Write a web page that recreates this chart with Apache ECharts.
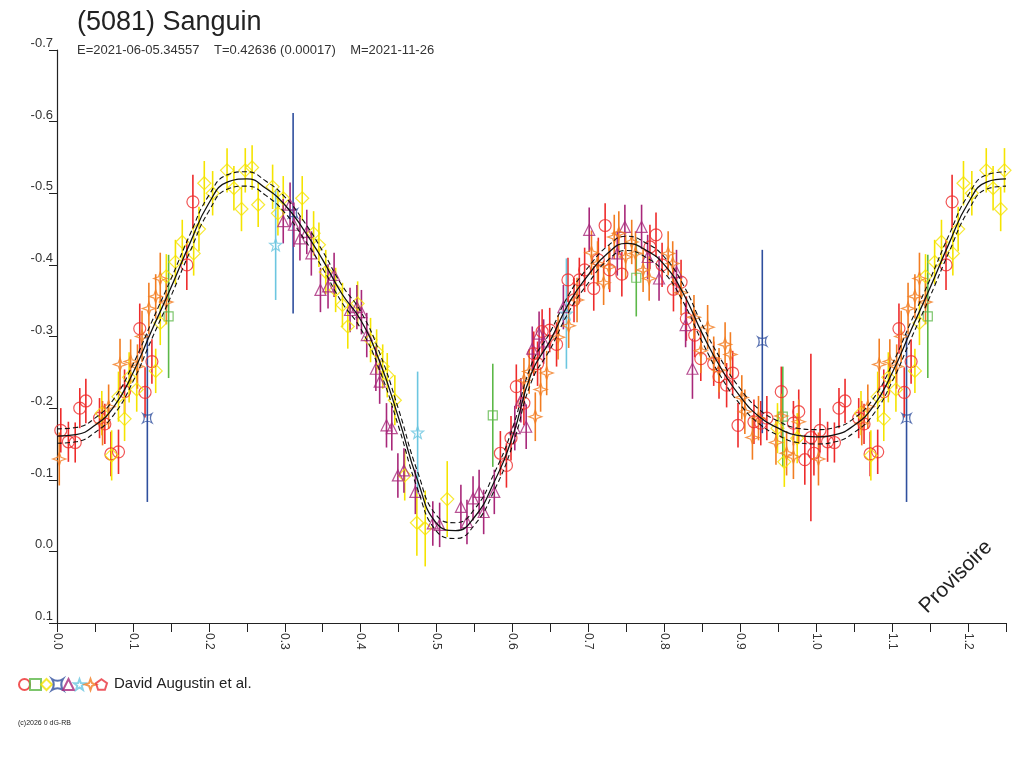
<!DOCTYPE html>
<html>
<head>
<meta charset="utf-8">
<title>(5081) Sanguin</title>
<script src="https://cdn.jsdelivr.net/npm/echarts@6/dist/echarts.min.js"></script>
<style>
  html, body { margin: 0; padding: 0; background: #fff; }
  #chart { width: 1024px; height: 768px; }
</style>
</head>
<body>
<div id="chart"></div>
<script>
// Lightcurve data: [phase, magnitude, error]
var circlePts = [
    [0.005,-0.169,0.031],[0.015,-0.153,0.028],[0.024,-0.152,0.028],[0.030,-0.200,0.028],
    [0.038,-0.210,0.031],[0.056,-0.186,0.028],[0.063,-0.178,0.028],[0.071,-0.136,0.031],
    [0.081,-0.139,0.031],[0.089,-0.223,0.031],[0.109,-0.311,0.035],[0.116,-0.222,0.035],
    [0.125,-0.265,0.031],[0.171,-0.400,0.035],[0.179,-0.488,0.038],
    [0.584,-0.137,0.031],[0.592,-0.120,0.031],[0.598,-0.158,0.031],[0.605,-0.230,0.031],
    [0.615,-0.207,0.031],[0.628,-0.276,0.031],[0.633,-0.262,0.031],[0.639,-0.307,0.031],
    [0.649,-0.309,0.031],[0.658,-0.289,0.031],[0.673,-0.379,0.031],[0.681,-0.351,0.031],
    [0.688,-0.379,0.031],[0.695,-0.393,0.031],[0.707,-0.367,0.031],[0.713,-0.407,0.031],
    [0.722,-0.455,0.031],[0.728,-0.393,0.031],[0.744,-0.387,0.031],[0.781,-0.425,0.031],
    [0.789,-0.442,0.031],[0.797,-0.400,0.031],[0.812,-0.366,0.031],[0.822,-0.376,0.031],
    [0.829,-0.325,0.031],[0.840,-0.302,0.031],[0.848,-0.269,0.031],[0.865,-0.262,0.031],
    [0.872,-0.244,0.031],[0.882,-0.232,0.031],[0.890,-0.249,0.031],[0.897,-0.176,0.031],
    [0.918,-0.181,0.031],[0.927,-0.179,0.031],[0.935,-0.186,0.031],[0.954,-0.223,0.035],
    [0.970,-0.179,0.031],[0.977,-0.195,0.031],[0.985,-0.128,0.035],[0.993,-0.159,0.117],
    [0.997,-0.137,0.031]
];
var squarePts = [
    [0.147,-0.328,0.086],[0.574,-0.190,0.072],[0.763,-0.382,0.054],[0.956,-0.188,0.070]
];
var diamondPts = [
    [0.059,-0.193,0.031],[0.072,-0.134,0.035],[0.081,-0.216,0.035],[0.089,-0.185,0.031],
    [0.095,-0.243,0.035],[0.105,-0.226,0.031],[0.130,-0.252,0.031],[0.136,-0.319,0.031],
    [0.144,-0.384,0.031],[0.156,-0.404,0.031],[0.165,-0.432,0.031],[0.180,-0.416,0.031],
    [0.187,-0.450,0.031],[0.194,-0.514,0.031],[0.205,-0.500,0.031],[0.224,-0.532,0.031],
    [0.233,-0.507,0.031],[0.243,-0.478,0.031],[0.248,-0.532,0.031],[0.257,-0.536,0.031],
    [0.265,-0.484,0.031],[0.284,-0.509,0.031],[0.291,-0.472,0.031],[0.298,-0.493,0.031],
    [0.323,-0.493,0.031],[0.338,-0.444,0.031],[0.345,-0.428,0.031],[0.354,-0.390,0.031],
    [0.367,-0.365,0.031],[0.376,-0.344,0.031],[0.383,-0.314,0.031],[0.396,-0.346,0.031],
    [0.413,-0.295,0.031],[0.421,-0.279,0.031],[0.429,-0.258,0.031],[0.435,-0.246,0.031],
    [0.445,-0.211,0.035],[0.458,-0.106,0.035],[0.474,-0.040,0.046],[0.485,-0.032,0.053],
    [0.514,-0.073,0.053],[0.949,-0.172,0.035],[0.958,-0.125,0.035],[0.975,-0.158,0.035]
];
var bowtiePts = [
    [0.119,-0.186,0.117],[0.311,-0.472,0.140],[0.929,-0.293,0.128]
];
var trianglePts = [
    [0.298,-0.461,0.031],[0.307,-0.484,0.031],[0.312,-0.456,0.031],[0.320,-0.437,0.031],
    [0.329,-0.446,0.031],[0.335,-0.416,0.031],[0.347,-0.365,0.031],[0.357,-0.370,0.031],
    [0.365,-0.386,0.031],[0.386,-0.337,0.031],[0.395,-0.341,0.031],[0.401,-0.334,0.031],
    [0.408,-0.302,0.031],[0.420,-0.255,0.031],[0.425,-0.237,0.031],[0.434,-0.176,0.031],
    [0.441,-0.172,0.031],[0.449,-0.106,0.031],[0.457,-0.113,0.031],[0.472,-0.083,0.031],
    [0.495,-0.039,0.031],[0.504,-0.037,0.031],[0.532,-0.062,0.031],[0.540,-0.041,0.031],
    [0.548,-0.074,0.031],[0.556,-0.083,0.031],[0.562,-0.055,0.031],[0.576,-0.083,0.031],
    [0.603,-0.172,0.031],[0.611,-0.211,0.031],[0.618,-0.174,0.031],[0.626,-0.283,0.031],
    [0.635,-0.304,0.031],[0.641,-0.293,0.031],[0.667,-0.341,0.031],[0.701,-0.449,0.031],
    [0.738,-0.416,0.031],[0.748,-0.453,0.031],[0.770,-0.453,0.031],[0.778,-0.411,0.031],
    [0.793,-0.381,0.031],[0.816,-0.390,0.031],[0.828,-0.316,0.031],[0.837,-0.255,0.042]
];
var star5Pts = [
    [0.288,-0.428,0.077],[0.475,-0.166,0.085],[0.671,-0.332,0.077]
];
var star4Pts = [
    [0.003,-0.129,0.037],[0.060,-0.179,0.031],[0.068,-0.202,0.031],[0.083,-0.261,0.036],
    [0.097,-0.265,0.031],[0.106,-0.258,0.031],[0.112,-0.300,0.036],[0.121,-0.339,0.036],
    [0.130,-0.356,0.031],[0.136,-0.381,0.036],[0.144,-0.348,0.031],
    [0.615,-0.239,0.031],[0.622,-0.251,0.031],[0.630,-0.188,0.034],[0.637,-0.226,0.031],
    [0.645,-0.249,0.031],[0.660,-0.299,0.031],[0.674,-0.315,0.031],[0.685,-0.351,0.031],
    [0.704,-0.417,0.031],[0.712,-0.402,0.031],[0.720,-0.375,0.031],[0.727,-0.397,0.031],
    [0.734,-0.439,0.031],[0.740,-0.444,0.031],[0.749,-0.411,0.031],[0.757,-0.432,0.031],
    [0.762,-0.416,0.031],[0.772,-0.393,0.031],[0.780,-0.381,0.031],[0.805,-0.416,0.031],
    [0.811,-0.402,0.031],[0.822,-0.361,0.031],[0.839,-0.327,0.031],[0.848,-0.280,0.031],
    [0.857,-0.313,0.031],[0.865,-0.269,0.031],[0.872,-0.253,0.031],[0.880,-0.289,0.031],
    [0.887,-0.275,0.031],[0.902,-0.215,0.031],[0.906,-0.195,0.031],[0.916,-0.159,0.031],
    [0.924,-0.186,0.031],[0.947,-0.152,0.031],[0.954,-0.189,0.031],[0.961,-0.137,0.031],
    [0.970,-0.132,0.031],[0.977,-0.181,0.031]
];
var pentagonPts = [];

// Fourier fit, with its dashed envelope
var fitPhase = [0.000,0.025,0.050,0.075,0.100,0.125,0.150,0.175,0.200,0.225,0.250,
    0.275,0.300,0.325,0.350,0.375,0.400,0.425,0.450,0.475,0.500,0.525,0.550,0.575,
    0.600,0.625,0.650,0.675,0.700,0.725,0.750,0.775,0.800,0.825,0.850,0.875,0.900,
    0.925,0.950,0.975,1.000];
var fitMag = [-0.161,-0.163,-0.176,-0.202,-0.249,-0.309,-0.368,-0.430,-0.486,-0.516,-0.520,
    -0.507,-0.484,-0.449,-0.407,-0.360,-0.323,-0.265,-0.186,-0.099,-0.039,-0.029,-0.048,-0.095,
    -0.160,-0.249,-0.295,-0.348,-0.386,-0.416,-0.430,-0.421,-0.400,-0.360,-0.304,-0.255,-0.216,
    -0.188,-0.172,-0.162,-0.160];
var fitUpper = [-0.171,-0.173,-0.186,-0.213,-0.261,-0.321,-0.380,-0.442,-0.497,-0.526,-0.530,
    -0.517,-0.495,-0.461,-0.419,-0.372,-0.335,-0.277,-0.198,-0.111,-0.050,-0.040,-0.059,-0.107,
    -0.172,-0.261,-0.307,-0.360,-0.397,-0.426,-0.440,-0.431,-0.411,-0.372,-0.316,-0.267,-0.227,
    -0.198,-0.182,-0.172,-0.170];
var fitLower = [-0.151,-0.153,-0.166,-0.191,-0.237,-0.297,-0.356,-0.418,-0.475,-0.506,-0.510,
    -0.497,-0.473,-0.437,-0.395,-0.348,-0.311,-0.253,-0.174,-0.087,-0.028,-0.018,-0.037,-0.083,
    -0.148,-0.237,-0.283,-0.336,-0.375,-0.406,-0.420,-0.411,-0.389,-0.348,-0.292,-0.243,-0.205,
    -0.178,-0.162,-0.152,-0.150];

var xTicks = ['0.0','0.1','0.2','0.3','0.4','0.5','0.6','0.7','0.8','0.9','1.0','1.1','1.2'];
var titleText = '(5081) Sanguin';
var subText = 'E=2021-06-05.34557    T=0.42636 (0.00017)    M=2021-11-26';
var authorText = 'David Augustin et al.';

var PHASE_MAX = 1.25;
var FONT = '"Liberation Sans", Arial, sans-serif';

// symbols
var STAR4 = 'path://M0,-10 L2.6,-2.6 L10,0 L2.6,2.6 L0,10 L-2.6,2.6 L-10,0 L-2.6,-2.6 Z';
var STAR5 = 'path://M0,-10 L2.4,-3.3 L9.5,-3.1 L3.9,1.3 L5.9,8.1 L0,4.1 L-5.9,8.1 L-3.9,1.3 L-9.5,-3.1 L-2.4,-3.3 Z';
var BOWTIE = 'path://M-8,-8 Q0,-3 8,-8 Q3,0 8,8 Q0,3 -8,8 Q-3,0 -8,-8 Z';
var PENTAGON = 'path://M0,-10 L9.5,-3.1 L5.9,8.1 L-5.9,8.1 L-9.5,-3.1 Z';

var sets = [
    { name: 'circle',   pts: circlePts,   symbol: 'circle',   size: 12, color: '#ee2b2b' },
    { name: 'square',   pts: squarePts,   symbol: 'rect',     size: 9,  color: '#5cb848' },
    { name: 'diamond',  pts: diamondPts,  symbol: 'diamond',  size: 13, color: '#f5e400' },
    { name: 'bowtie',   pts: bowtiePts,   symbol: BOWTIE,     size: 9,  color: '#2f4f9e' },
    { name: 'triangle', pts: trianglePts, symbol: 'triangle', size: 11, color: '#a8287a' },
    { name: 'star5',    pts: star5Pts,    symbol: STAR5,      size: 12, color: '#6cc6e0' },
    { name: 'star4',    pts: star4Pts,    symbol: STAR4,      size: 13, color: '#f27d22' },
    { name: 'pentagon', pts: pentagonPts, symbol: PENTAGON,   size: 12, color: '#e8303a' }
];

// repeat the start of the cycle after phase 1
function wrap(pts) {
    var extra = pts.filter(function(p) { return p[0] + 1 <= PHASE_MAX; })
                   .map(function(p) { return [p[0] + 1, p[1], p[2]]; });
    return pts.concat(extra);
}

function curve(values) {
    var d = fitPhase.map(function(p, i) { return [p, values[i]]; });
    fitPhase.forEach(function(p, i) {
        if (p > 0 && p + 1 <= PHASE_MAX) { d.push([p + 1, values[i]]); }
    });
    return d;
}

function errorBars(color) {
    return function(params, api) {
        var x = api.value(0), y = api.value(1), e = api.value(2);
        var a = api.coord([x, y - e]);
        var b = api.coord([x, y + e]);
        return {
            type: 'line',
            shape: { x1: a[0], y1: a[1], x2: b[0], y2: b[1] },
            style: { stroke: color, lineWidth: 1.6 }
        };
    };
}

var series = [];
sets.forEach(function(s) {
    var data = wrap(s.pts);
    series.push({
        name: s.name + '-err',
        type: 'custom',
        renderItem: errorBars(s.color),
        encode: { x: 0, y: 1 },
        data: data,
        silent: true,
        z: 2
    });
    series.push({
        name: s.name,
        type: 'scatter',
        symbol: s.symbol,
        symbolSize: s.size,
        itemStyle: { color: 'rgba(0,0,0,0)', borderColor: s.color, borderWidth: 1.2 },
        data: data,
        z: 3
    });
});

series.push({
    type: 'line', data: curve(fitMag), smooth: true, showSymbol: false, silent: true,
    lineStyle: { color: '#111', width: 1.3 }, z: 5
});
series.push({
    type: 'line', data: curve(fitUpper), smooth: true, showSymbol: false, silent: true,
    lineStyle: { color: '#111', width: 1.1, type: [5, 3] }, z: 5
});
series.push({
    type: 'line', data: curve(fitLower), smooth: true, showSymbol: false, silent: true,
    lineStyle: { color: '#111', width: 1.1, type: [5, 3] }, z: 5
});

var chart = echarts.init(document.getElementById('chart'));
chart.setOption({
    backgroundColor: '#fff',
    animation: false,
    textStyle: { fontFamily: FONT },
    title: {
        text: titleText,
        subtext: subText,
        left: 72,
        top: 4,
        itemGap: 8,
        textStyle: { fontSize: 27, fontWeight: 'normal', color: '#222', fontFamily: FONT },
        subtextStyle: { fontSize: 13, color: '#333', fontFamily: FONT }
    },
    legend: {
        data: sets.map(function(s) { return s.name; }),
        left: 13,
        top: 673,
        padding: 5,
        itemWidth: 11,
        itemHeight: 11,
        itemGap: -2,
        formatter: function() { return ''; },
        selectedMode: false
    },
    grid: { left: 57, right: 18, top: 50, bottom: 145 },
    xAxis: {
        type: 'value',
        min: 0,
        max: PHASE_MAX,
        interval: 0.05,
        axisLine: { onZero: false, lineStyle: { color: '#222', width: 1.2 } },
        axisTick: { length: 9, lineStyle: { color: '#222' } },
        splitLine: { show: false },
        axisLabel: {
            rotate: -90,
            margin: 10,
            fontSize: 12,
            color: '#333',
            formatter: function(v) {
                var k = Math.round(v * 20);
                return k % 2 === 0 ? xTicks[k / 2] : '';
            }
        }
    },
    yAxis: {
        type: 'value',
        inverse: true,
        min: -0.7,
        max: 0.1,
        interval: 0.1,
        axisLine: { show: true, onZero: false, lineStyle: { color: '#222', width: 1.2 } },
        axisTick: { show: true, length: 8, lineStyle: { color: '#222' } },
        splitLine: { show: false },
        axisLabel: {
            margin: 4,
            fontSize: 13,
            color: '#333',
            verticalAlign: 'bottom',
            formatter: function(v) { return (Math.abs(v) < 1e-9 ? 0 : v).toFixed(1); }
        }
    },
    graphic: [
        {
            type: 'text', left: 114, top: 676,
            style: { text: authorText, fontSize: 15, fill: '#222', fontFamily: FONT }
        },
        {
            type: 'text', left: 18, top: 720,
            style: { text: '(c)2026 0 dG-RB', fontSize: 7, fill: '#222', fontFamily: FONT }
        },
        {
            type: 'text', x: 956, y: 577, rotation: Math.PI / 4,
            style: { text: 'Provisoire', fontSize: 21, fill: '#222', fontFamily: FONT,
                     align: 'center', verticalAlign: 'middle' }
        }
    ],
    series: series
});
</script>
</body>
</html>
